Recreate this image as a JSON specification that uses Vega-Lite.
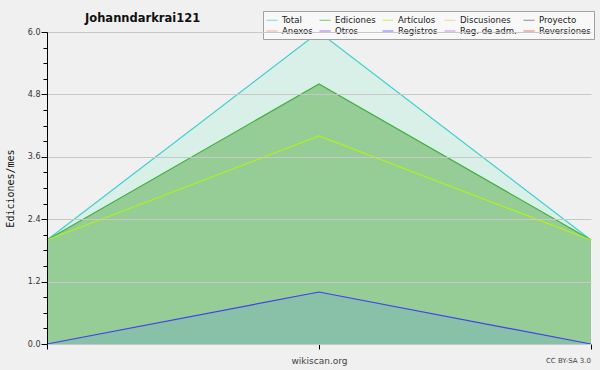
{
  "$schema": "https://vega.github.io/schema/vega-lite/v6.json",
  "width": 544,
  "height": 312,
  "autosize": {"type": "none"},
  "padding": {"left": 47, "top": 32, "right": 9, "bottom": 26},
  "background": "#f0f0f0",
  "config": {"view": {"stroke": null}},
  "title": {"text": "Johanndarkrai121", "anchor": "start", "frame": "group", "dx": 38, "dy": 20, "offset": 6, "font": "DejaVu Sans", "fontSize": 11.5, "fontWeight": "bold", "color": "#111111"},
  "data": {"values": [
    {"serie": "Total", "x": 0, "y": 2}, {"serie": "Total", "x": 1, "y": 6}, {"serie": "Total", "x": 2, "y": 2},
    {"serie": "Ediciones", "x": 0, "y": 2}, {"serie": "Ediciones", "x": 1, "y": 5}, {"serie": "Ediciones", "x": 2, "y": 2},
    {"serie": "Artículos", "x": 0, "y": 2}, {"serie": "Artículos", "x": 1, "y": 4}, {"serie": "Artículos", "x": 2, "y": 2},
    {"serie": "Registros", "x": 0, "y": 0}, {"serie": "Registros", "x": 1, "y": 1}, {"serie": "Registros", "x": 2, "y": 0}
  ]},
  "resolve": {"axis": {"y": "independent"}},
  "layer": [
    {
      "transform": [{"filter": "datum.serie === 'Total'"}],
      "mark": {"type": "area", "color": "#d9f0e9"},
      "encoding": {
        "x": {"field": "x", "type": "quantitative", "scale": {"domain": [0, 2], "nice": false},
          "axis": {"values": [0, 1, 2], "labels": false, "tickSize": 5, "tickColor": "#000000", "domainColor": "#000000", "grid": false,
            "title": "wikiscan.org", "titleFont": "DejaVu Sans", "titleFontSize": 9, "titleFontWeight": "normal", "titleColor": "#444444", "titleDx": -19, "titlePadding": 7}},
        "y": {"field": "y", "type": "quantitative", "scale": {"domain": [0, 6], "nice": false},
          "axis": {"values": [0, 1.2, 2.4, 3.6, 4.8, 6], "format": ".1f", "tickSize": 6, "tickColor": "#000000", "domainColor": "#000000",
            "labelFont": "DejaVu Sans", "labelFontSize": 8, "labelColor": "#333333", "labelPadding": 1,
            "gridColor": "#c8c8c8", "zindex": 1,
            "title": "Ediciones/mes", "titleFont": "DejaVu Sans Mono", "titleFontSize": 10, "titleFontWeight": "normal", "titleColor": "#111111", "titlePadding": 12}}
      }
    },
    {
      "transform": [{"filter": "datum.serie === 'Ediciones'"}],
      "mark": {"type": "area", "color": "#96cc96"},
      "encoding": {
        "x": {"field": "x", "type": "quantitative"},
        "y": {"field": "y", "type": "quantitative", "axis": null}
      }
    },
    {
      "transform": [{"filter": "datum.serie === 'Registros'"}],
      "mark": {"type": "area", "color": "#88c0a8"},
      "encoding": {
        "x": {"field": "x", "type": "quantitative"},
        "y": {"field": "y", "type": "quantitative", "axis": null}
      }
    },
    {
      "mark": {"type": "line", "strokeWidth": 1.2},
      "encoding": {
        "x": {"field": "x", "type": "quantitative"},
        "y": {"field": "y", "type": "quantitative",
          "axis": {"orient": "left", "values": [0, 0.3, 0.6, 0.9, 1.2, 1.5, 1.8, 2.1, 2.4, 2.7, 3.0, 3.3, 3.6, 3.9, 4.2, 4.5, 4.8, 5.1, 5.4, 5.7, 6.0],
            "labels": false, "grid": false, "domain": false, "tickSize": 4, "tickColor": "#000000", "title": null}},
        "color": {"field": "serie", "type": "nominal",
          "scale": {"domain": ["Total", "Ediciones", "Artículos", "Discusiones", "Proyecto", "Anexos", "Otros", "Registros", "Reg. de adm.", "Reversiones"],
            "range": ["#40d0d0", "#40b040", "#b0f020", "#f0d060", "#606060", "#f09060", "#8040e0", "#4040f0", "#c060e0", "#e04040"]},
          "legend": {"orient": "none", "legendX": 216, "legendY": -21, "direction": "horizontal", "columns": 5, "title": null,
            "symbolType": "stroke", "symbolSize": 121, "symbolStrokeWidth": 1, "symbolOpacity": 0.7, "labelFont": "DejaVu Sans Condensed", "labelFontSize": 9.5, "labelColor": "#222222",
            "fillColor": "#f8f8f8", "strokeColor": "#a0a0a0", "padding": 3, "rowPadding": 0, "columnPadding": 4, "labelOffset": 4}},
        "order": {"field": "x", "type": "quantitative"}
      }
    },
    {
      "data": {"values": [{"t": "CC BY-SA 3.0"}]},
      "mark": {"type": "text", "align": "right", "baseline": "middle", "dy": 17, "font": "DejaVu Sans", "fontSize": 7, "color": "#444444"},
      "encoding": {
        "x": {"datum": 2, "type": "quantitative"},
        "y": {"datum": 0, "type": "quantitative", "axis": null},
        "text": {"field": "t"}
      }
    }
  ]
}
